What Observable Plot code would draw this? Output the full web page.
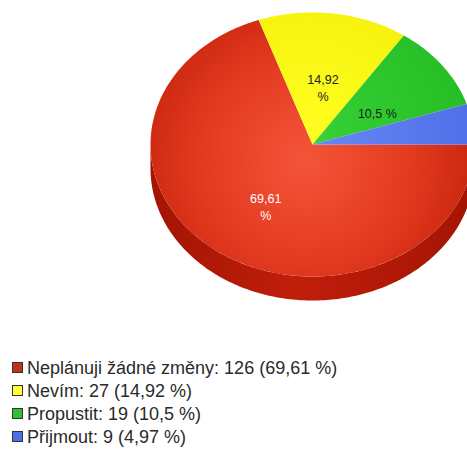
<!DOCTYPE html>
<html>
<head>
<meta charset="utf-8">
<script src="https://cdn.jsdelivr.net/npm/d3@7"></script>
<script src="https://cdn.jsdelivr.net/npm/@observablehq/plot@0.6"></script>
<style>
  html, body { margin: 0; padding: 0; background: #fff; overflow: hidden; }
  #chart svg { overflow: hidden; display: block; }
  #legend { margin-top: 27px; padding-left: 12px; font-family: "Liberation Sans", Arial, sans-serif; font-size: 18px; color: #2a2a2a; }
  #legend .row { height: 23px; line-height: 23px; white-space: nowrap; }
  #legend .sw { display: inline-block; width: 9px; height: 9px; border: 1px solid #333; margin-right: 4px; vertical-align: 1px; }
</style>
</head>
<body>
<div id="chart"></div>
<div id="legend"></div>
<script>
// ---- data ----
const categories = ["Neplánuji žádné změny", "Nevím", "Propustit", "Přijmout"];
const counts = [126, 27, 19, 9];
const percentText = ["69,61 %", "14,92 %", "10,5 %", "4,97 %"];
const sliceLabels = ["69,61\n%", "14,92\n%", "10,5 %", ""];
const topFills = ["url(#gRed)", "url(#gYellow)", "url(#gGreen)", "url(#gBlue)"];
const sideFills = ["url(#sRed)", "url(#sYellow)", "url(#sGreen)", "url(#sBlue)"];
const labelColors = ["#ffffff", "#222222", "#1a1a1a", "#222222"];
const swatchColors = ["#c0301c", "#ffff33", "#2fbf2f", "#4f6fe8"];

// ---- geometry derived from data ----
const total = d3.sum(counts);
const depth = 0.182; // thickness of the 3D rim in y units
const step = Math.PI / 180;
let cum = 0;
const slices = counts.map((c, i) => {
  const a0 = -2 * Math.PI * cum / total;
  cum += c;
  const a1 = -2 * Math.PI * cum / total;
  return {i, a0, a1};
});

function arcPoints(a0, a1, dy = 0) {
  const pts = [];
  const n = Math.max(2, Math.ceil(Math.abs(a1 - a0) / step));
  for (let k = 0; k <= n; k++) {
    const a = a0 + (a1 - a0) * k / n;
    pts.push({x: Math.cos(a), y: Math.sin(a) - dy});
  }
  return pts;
}

// top faces
const topPolys = slices.map(s => [{x: 0, y: 0}, ...arcPoints(s.a0, s.a1), {x: 0, y: 0}]);

// side faces: portions of slices on the front (lower) half, angles in (-PI, 0)
const sidePolys = slices.map(s => {
  const lo = Math.max(Math.min(s.a0, s.a1), -Math.PI);
  const hi = Math.min(Math.max(s.a0, s.a1), 0);
  if (hi <= lo) return null;
  const top = arcPoints(lo, hi);
  const bot = arcPoints(hi, lo, depth);
  return [...top, ...bot, top[0]];
});

const labelData = slices.map(s => {
  const m = (s.a0 + s.a1) / 2;
  return {x: 0.5 * Math.cos(m), y: 0.5 * Math.sin(m), text: sliceLabels[s.i], color: labelColors[s.i]};
}).filter(d => d.text);

const marks = [];
sidePolys.forEach((p, i) => { if (p) marks.push(Plot.line(p, {x: "x", y: "y", fill: sideFills[i], stroke: "none"})); });
topPolys.forEach((p, i) => marks.push(Plot.line(p, {x: "x", y: "y", fill: topFills[i], stroke: "none"})));
marks.push(Plot.text(labelData, {x: "x", y: "y", text: "text", fill: "color", dy: 8, fontSize: 12.5, lineHeight: 1.35, lineAnchor: "middle", fontFamily: "Liberation Sans, Arial, sans-serif"}));

const svg = Plot.plot({
  width: 467,
  height: 330,
  margin: 0,
  x: {domain: [-1, 1], range: [150, 474], axis: null},
  y: {domain: [-1, 1], range: [276, 12], axis: null},
  color: {type: "identity"},
  marks
});

const defs = d3.select(svg).insert("defs", ":first-child");
defs.html(`
  <radialGradient id="gRed" gradientUnits="userSpaceOnUse" cx="305" cy="160" r="175">
    <stop offset="0" stop-color="#f5553a"/>
    <stop offset="0.6" stop-color="#e23a20"/>
    <stop offset="1" stop-color="#c8260e"/>
  </radialGradient>
  <radialGradient id="gYellow" gradientUnits="userSpaceOnUse" cx="305" cy="140" r="175">
    <stop offset="0" stop-color="#ffff22"/>
    <stop offset="1" stop-color="#f4ef08"/>
  </radialGradient>
  <radialGradient id="gGreen" gradientUnits="userSpaceOnUse" cx="305" cy="140" r="175">
    <stop offset="0" stop-color="#38d238"/>
    <stop offset="1" stop-color="#24be24"/>
  </radialGradient>
  <radialGradient id="gBlue" gradientUnits="userSpaceOnUse" cx="305" cy="140" r="175">
    <stop offset="0" stop-color="#6a88f4"/>
    <stop offset="1" stop-color="#4e6ee8"/>
  </radialGradient>
  <linearGradient id="sRed" gradientUnits="userSpaceOnUse" x1="150" y1="0" x2="474" y2="0">
    <stop offset="0" stop-color="#a41404"/>
    <stop offset="0.45" stop-color="#c01e0a"/>
    <stop offset="1" stop-color="#a41404"/>
  </linearGradient>
  <linearGradient id="sYellow"><stop offset="0" stop-color="#cccc00"/><stop offset="1" stop-color="#cccc00"/></linearGradient>
  <linearGradient id="sGreen"><stop offset="0" stop-color="#1c9a1c"/><stop offset="1" stop-color="#1c9a1c"/></linearGradient>
  <linearGradient id="sBlue"><stop offset="0" stop-color="#3a56c0"/><stop offset="1" stop-color="#3a56c0"/></linearGradient>
`);

document.getElementById("chart").appendChild(svg);

const legend = d3.select("#legend");
categories.forEach((c, i) => {
  const row = legend.append("div").attr("class", "row");
  row.append("span").attr("class", "sw").style("background", swatchColors[i]);
  row.append("span").text(`${c}: ${counts[i]} (${percentText[i]})`);
});
</script>
</body>
</html>
